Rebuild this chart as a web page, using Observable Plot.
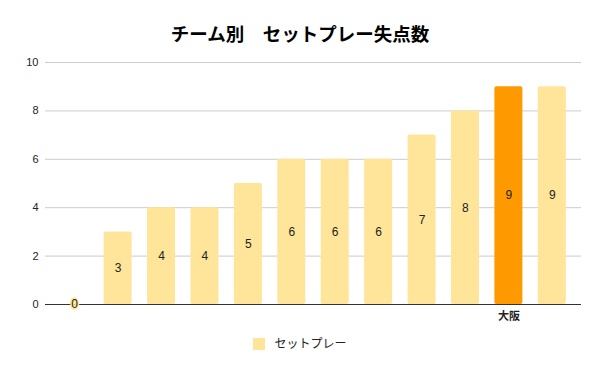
<!DOCTYPE html>
<html><head><meta charset="utf-8">
<script src="https://cdn.jsdelivr.net/npm/d3@7"></script>
<script src="https://cdn.jsdelivr.net/npm/@observablehq/plot@0.6"></script>
<style>
body{margin:0;background:#fff;font-family:"Liberation Sans","Noto Sans CJK JP",sans-serif;}
#wrap{position:relative;width:600px;height:371px;}
#title{position:absolute;top:21px;left:0;width:600px;text-align:center;font:bold 18.5px "Noto Sans CJK JP",sans-serif;color:#000;line-height:24px;}
#legend{position:absolute;top:335px;left:0;width:600px;text-align:center;font:12px "Noto Sans CJK JP",sans-serif;color:#222;line-height:16px;}
#legend span.sw{display:inline-block;width:12px;height:12px;background:#ffe599;vertical-align:-2px;margin-right:9px;}
#chart{position:absolute;top:0;left:0;}
</style></head>
<body><div id="wrap"><div id="chart"></div><div id="title">チーム別　セットプレー失点数</div><div id="legend"><span class="sw"></span>セットプレー</div></div>
<script>
const categories = ["1","2","3","4","5","6","7","8","9","10","11","12"];
const tickLabels = ["","","","","","","","","","","大阪",""];
const values = [0,3,4,4,5,6,6,6,7,8,9,9];
const highlight = "大阪";
const yTicks = [0,2,4,6,8,10];

const light = "#ffe599", orange = "#ff9900";
const data = categories.map((c,i)=>({cat:c,label:tickLabels[i],v:values[i],color: tickLabels[i]===highlight?orange:light}));
const labelOf = Object.fromEntries(categories.map((c,i)=>[c,tickLabels[i]]));

const plot = Plot.plot({
  width:600,height:371,
  marginTop:62,marginBottom:67,marginLeft:45,marginRight:19,
  style:{fontFamily:"'Liberation Sans','Noto Sans CJK JP',sans-serif",fontSize:"11px",color:"#222"},
  x:{domain:categories,paddingInner:0.355,paddingOuter:0.35,round:false,label:null},
  y:{domain:[0,10],label:null},
  marks:[
    Plot.gridY(yTicks.filter(t=>t>0),{stroke:"#ccc",strokeOpacity:1}),
    Plot.axisY(yTicks,{tickSize:0,tickPadding:7,fontSize:11,fill:"#222"}),
    Plot.barY(data,{x:"cat",y:"v",fill:"color",rx:2}),
    Plot.ruleY([0],{stroke:"#333",strokeWidth:1}),
    Plot.axisX({tickSize:0,tickPadding:8,tickFormat:d=>labelOf[d],fontSize:11,fontWeight:"bold",fill:"#222",fontFamily:"'Noto Sans CJK JP',sans-serif"}),
    Plot.text(data,{x:"cat",y:d=>d.v/2,text:d=>String(d.v),fill:"#222",stroke:"color",strokeWidth:3,fontSize:12})
  ]
});
document.getElementById("chart").appendChild(plot);
</script></body></html>
